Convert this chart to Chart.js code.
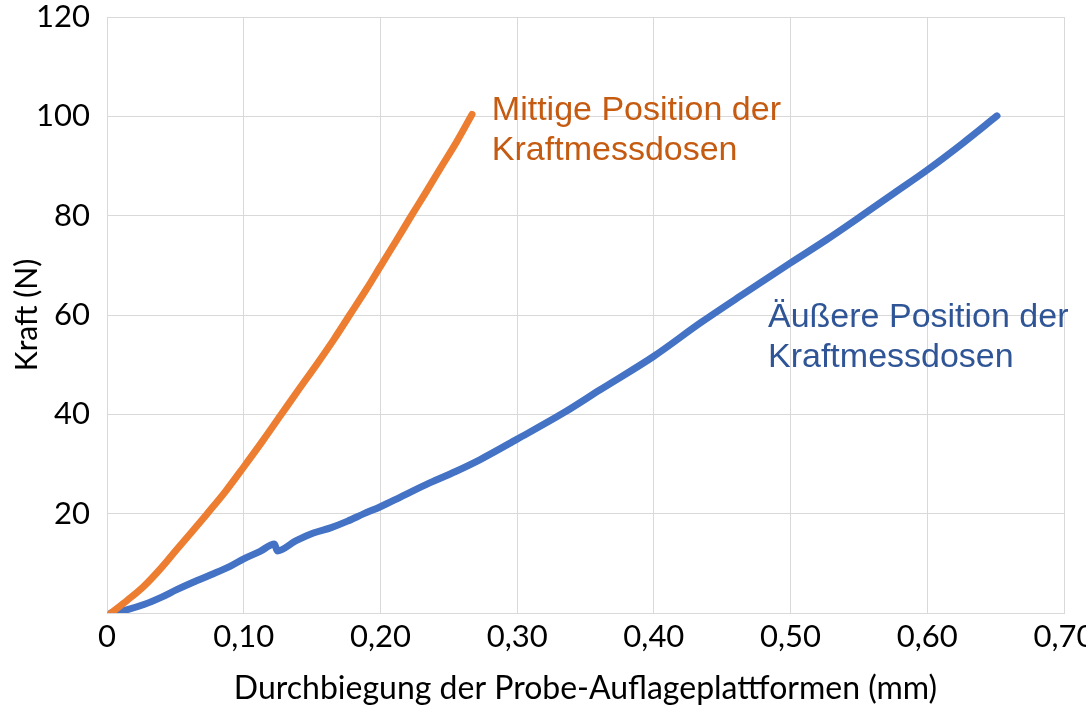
<!DOCTYPE html>
<html>
<head>
<meta charset="utf-8">
<script src="https://cdn.jsdelivr.net/npm/chart.js@4.4.0/dist/chart.umd.min.js"></script>
<style>
  body { margin: 0; background: #fff; }
  #wrap { width: 1086px; height: 716px; }
</style>
</head>
<body>
<div id="wrap"><canvas id="chart1"></canvas></div>
<script>
// Mittige Position (orange)
var mitteX = [0.003, 0.015, 0.027, 0.040, 0.051, 0.062, 0.073, 0.087, 0.100, 0.114, 0.127, 0.140,
              0.154, 0.166, 0.178, 0.190, 0.200, 0.211, 0.222, 0.233, 0.244, 0.256, 0.267];
var mitteY = [0, 2.6, 5.4, 9.2, 12.8, 16.3, 19.9, 24.6, 29.4, 34.7, 39.8, 44.9,
              50.3, 55.1, 60.2, 65.3, 69.8, 74.7, 79.7, 84.6, 89.6, 95.0, 100.4];

// Äußere Position (blau)
var aussenX = [0.003, 0.015, 0.027, 0.040, 0.051, 0.063, 0.076, 0.090, 0.100, 0.112, 0.1225, 0.1245,
               0.138, 0.151, 0.164, 0.176, 0.188, 0.200, 0.215, 0.236, 0.255, 0.273, 0.300, 0.334,
               0.361, 0.400, 0.434, 0.467, 0.500, 0.526, 0.551, 0.576, 0.600, 0.626, 0.651];
var aussenY = [0, 0.7, 1.7, 3.2, 4.7, 6.2, 7.7, 9.4, 10.9, 12.4, 13.9, 12.5,
               14.5, 16.1, 17.2, 18.5, 20.0, 21.4, 23.4, 26.2, 28.5, 30.9, 35.0, 40.3,
               45.0, 51.7, 58.4, 64.5, 70.5, 75.1, 79.8, 84.6, 89.2, 94.6, 100.1];

var labelMitte = ["Mittige Position der", "Kraftmessdosen"];
var labelAussen = ["\u00c4u\u00dfere Position der", "Kraftmessdosen"];

function toPoints(xs, ys){
  return xs.map(function(x, i){ return {x: x, y: ys[i]}; });
}

// text labels next to the curves
const curveLabels = {
  id: 'curveLabels',
  afterDatasetsDraw(chart){
    var ctx = chart.ctx;
    var sx = chart.scales.x, sy = chart.scales.y;
    var items = [
      {lines: labelMitte, x: 0.2815, y: 99.3, color: '#C55A11'},
      {lines: labelAussen, x: 0.4835, y: 57.6, color: '#2F5597'}
    ];
    ctx.save();
    ctx.font = '34px "Liberation Sans", Arial, sans-serif';
    ctx.textBaseline = 'alphabetic';
    ctx.textAlign = 'left';
    items.forEach(function(it){
      ctx.fillStyle = it.color;
      var px = sx.getPixelForValue(it.x);
      var py = sy.getPixelForValue(it.y);
      it.lines.forEach(function(line, i){
        ctx.fillText(line, px, py + i * 40);
      });
    });
    ctx.restore();
  }
};

function noPad(scale){
  scale.paddingLeft = 0;
  scale.paddingRight = 0;
  scale.paddingTop = 0;
  scale.paddingBottom = 0;
}

const config = {
  type: 'scatter',
  data: {
    datasets: [{
      label: 'Mittige Position der Kraftmessdosen',
      data: toPoints(mitteX, mitteY),
      showLine: true,
      borderColor: '#ED7D31',
      backgroundColor: '#ED7D31',
      borderWidth: 7,
      borderCapStyle: 'round',
      borderJoinStyle: 'round',
      pointRadius: 0,
      cubicInterpolationMode: 'monotone'
    },
    {
      label: 'Äußere Position der Kraftmessdosen',
      data: toPoints(aussenX, aussenY),
      showLine: true,
      borderColor: '#4472C4',
      backgroundColor: '#4472C4',
      borderWidth: 7,
      borderCapStyle: 'round',
      borderJoinStyle: 'round',
      pointRadius: 0,
      cubicInterpolationMode: 'monotone'
    }]
  },
  options: {
    responsive: true,
    maintainAspectRatio: false,
    animation: false,
    layout: { padding: { top: 17, right: 22, left: 0, bottom: 0 } },
    plugins: {
      legend: { display: false },
      tooltip: { enabled: false }
    },
    scales: {
      x: {
        type: 'linear',
        min: 0,
        max: 0.7,
        afterFit: function(scale){ scale.height = 103; noPad(scale); },
        grid: { color: '#D9D9D9', drawTicks: false, lineWidth: 1 },
        border: { color: '#D9D9D9' },
        ticks: {
          stepSize: 0.1,
          padding: 5,
          color: '#000',
          font: { family: 'Lato', size: 31 },
          maxRotation: 0,
          callback: function(v){ return v === 0 ? '0' : v.toFixed(2).replace('.', ','); }
        },
        title: {
          display: true,
          text: 'Durchbiegung der Probe-Auflageplattformen (mm)',
          color: '#000',
          font: { family: 'Lato', size: 32 },
          padding: { top: 0, bottom: 8 }
        }
      },
      y: {
        min: 0,
        max: 120,
        afterFit: function(scale){ scale.width = 107; noPad(scale); },
        grid: { color: '#D9D9D9', drawTicks: false, lineWidth: 1 },
        border: { color: '#D9D9D9' },
        ticks: {
          stepSize: 20,
          padding: 17,
          color: '#000',
          font: { family: 'Lato', size: 31 },
          callback: function(v){ return v === 0 ? '' : v; }
        },
        title: {
          display: true,
          text: 'Kraft (N)',
          color: '#000',
          font: { family: 'Lato', size: 30 },
          padding: { top: 9, bottom: 0 }
        }
      }
    }
  },
  plugins: [curveLabels]
};

var chart = new Chart(document.getElementById('chart1'), config);
</script>
</body>
</html>
